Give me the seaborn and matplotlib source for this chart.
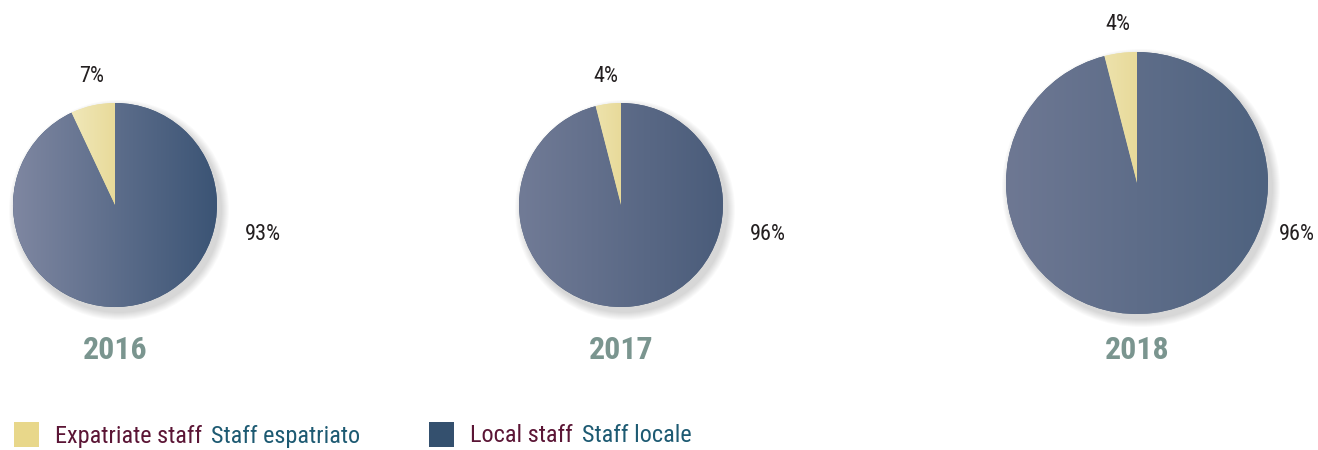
"""
Staff composition pies (expatriate vs local), 2016-2018.
"""

import numpy as np
import matplotlib.pyplot as plt
import seaborn as sns
from matplotlib import font_manager
from matplotlib.colors import LinearSegmentedColormap
from matplotlib.patches import Rectangle, Circle

# ── data ──────────────────────────────────────────────────────────────────────
years       = ["2016", "2017", "2018"]
expat_pct   = [7, 4, 4]
local_pct   = [93, 96, 96]
categories  = [("Expatriate staff", "Staff espatriato"), ("Local staff", "Staff locale")]

# layout in pixel units (figure is 1318 x 450), y from top
centers     = [(115, 205), (621, 205), (1137, 183)]
radii       = [102, 102, 131]
expat_lbl   = [(92, 77), (606, 77), (1118, 25)]
local_lbl   = [(263, 234), (768, 234), (1297, 234)]
grad_ends   = [("#7f87a1", "#3b5475"), ("#717b96", "#4a5c7a"), ("#6e7893", "#4e627f")]

EXPAT_COL  = "#ece2a6"
LEGEND_YEL = "#e8d78a"
LEGEND_NAV = "#34506e"
YEAR_COL   = "#7a958f"
MAROON     = "#5b1535"
TEAL       = "#1d5a72"
TEXT_COL   = "#231f20"

sns.set_theme(style="white")
installed = {f.name for f in font_manager.fontManager.ttflist}
narrow = [f for f in ["Roboto Condensed", "Liberation Sans Narrow", "Open Sans Condensed",
                      "Roboto", "DejaVu Sans"] if f in installed]
plt.rcParams["font.family"] = narrow

W, H = 1318, 450
fig = plt.figure(figsize=(W / 100, H / 100), dpi=100)
ax = fig.add_axes([0, 0, 1, 1])


def py(y):
    return H - y


for i, year in enumerate(years):
    cx, cy = centers[i]
    r = radii[i]
    c = (cx, py(cy))

    # soft shadow
    for k in range(8):
        ax.add_patch(Circle((c[0] + 4, c[1] - 5), r + 8 - k, color="#000000",
                            alpha=0.02, lw=0, zorder=1))

    wedges, _ = ax.pie([expat_pct[i], local_pct[i]], center=c, radius=r,
                       startangle=90, counterclock=True,
                       colors=[EXPAT_COL, grad_ends[i][1]],
                       wedgeprops=dict(linewidth=0))
    for w in wedges:
        w.set_zorder(2)

    # horizontal gradient on the local-staff wedge
    cmap = LinearSegmentedColormap.from_list(f"g{i}", list(grad_ends[i]))
    grad = np.linspace(0, 1, 256).reshape(1, -1)
    im = ax.imshow(grad, cmap=cmap, aspect="auto", zorder=3,
                   extent=[c[0] - r, c[0] + r, c[1] - r, c[1] + r])
    im.set_clip_path(wedges[1])

    # slight gradient on the expatriate wedge
    cmap_y = LinearSegmentedColormap.from_list(f"y{i}", ["#f1e9bb", "#e8da9a"])
    im2 = ax.imshow(grad, cmap=cmap_y, aspect="auto", zorder=3,
                    extent=[c[0] - r * 0.45, c[0], c[1], c[1] + r])
    im2.set_clip_path(wedges[0])

    # percentage labels
    ax.text(expat_lbl[i][0], py(expat_lbl[i][1]), f"{expat_pct[i]}%", fontsize=16,
            color=TEXT_COL, ha="center", va="center")
    ax.text(local_lbl[i][0], py(local_lbl[i][1]), f"{local_pct[i]}%", fontsize=16,
            color=TEXT_COL, ha="center", va="center")

    ax.text(cx, py(350), year, fontsize=23, fontweight="bold", color=YEAR_COL,
            ha="center", va="center")

ax.set_xlim(0, W)
ax.set_ylim(0, H)
ax.set_aspect("equal")
ax.axis("off")

# ── legend ────────────────────────────────────────────────────────────────────
leg_x = [14, 429]
for (en, it), col, x0 in zip(categories, [LEGEND_YEL, LEGEND_NAV], leg_x):
    ax.add_patch(Rectangle((x0, py(447)), 25, 25, color=col, lw=0))
    t = ax.text(x0 + 41, py(436), en, fontsize=17.5, color=MAROON, va="center", ha="left")
    fig.canvas.draw()
    bb = t.get_window_extent()
    x_end = ax.transData.inverted().transform((bb.x1, 0))[0]
    ax.text(x_end + 9, py(436), it, fontsize=17.5, color=TEAL, va="center", ha="left")

fig.savefig("out.png", dpi=100)
